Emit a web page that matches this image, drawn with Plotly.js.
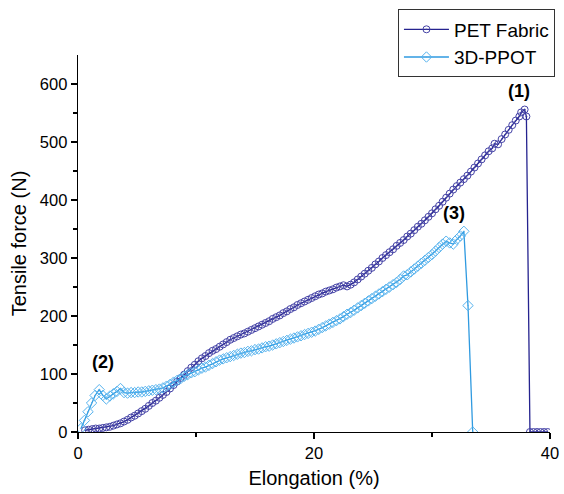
<!DOCTYPE html>
<html>
<head>
<meta charset="utf-8">
<script src="https://cdn.plot.ly/plotly-3.0.1.min.js"></script>
<style>html,body{margin:0;padding:0;background:#fff;}#chart{width:564px;height:494px;}</style>
</head>
<body>
<div id="chart"></div>
<script>
// PET Fabric: elongation (%) and tensile force (N)
const petX = [0.6,0.9,1.2,1.5,1.8,2.1,2.4,2.7,3.0,3.3,3.6,3.9,4.2,4.5,4.8,5.1,5.4,5.7,6.0,6.3,6.6,6.9,7.2,7.5,7.8,8.1,8.4,8.7,9.0,9.3,9.6,9.9,10.2,10.5,10.8,11.1,11.4,11.7,12.0,12.3,12.6,12.9,13.2,13.5,13.8,14.1,14.4,14.7,15.0,15.3,15.6,15.9,16.2,16.5,16.8,17.1,17.4,17.7,18.0,18.3,18.6,18.9,19.2,19.5,19.8,20.1,20.4,20.7,21.0,21.3,21.6,21.9,22.2,22.5,22.8,23.1,23.4,23.7,24.0,24.3,24.6,24.9,25.2,25.5,25.8,26.1,26.4,26.7,27.0,27.3,27.6,27.9,28.2,28.5,28.8,29.1,29.4,29.7,30.0,30.3,30.6,30.9,31.2,31.5,31.8,32.1,32.4,32.7,33.0,33.3,33.6,33.9,34.2,34.5,34.8,35.1,35.3,35.6,35.9,36.2,36.5,36.8,37.1,37.4,37.55,37.85,38.0,38.3,38.6,38.9,39.2,39.5,39.8];
const petY = [3,4,5,6,6,7,8,9,11,13,15,18,21,25,28,32,36,40,45,50,54,59,64,69,75,81,87,93,99,105,111,116,122,127,131,136,140,143,147,151,155,159,162,165,168,170,173,176,179,182,185,188,191,195,198,201,205,208,212,215,219,222,225,228,231,234,237,239,242,244,246,249,251,253,251,254,258,263,268,273,278,283,289,294,300,305,310,315,321,326,331,337,342,348,354,359,365,371,377,384,390,397,404,411,418,424,430,436,442,449,456,463,470,477,484,489,497,496,505,513,521,529,537,544,551,556,544,0,0,0,0,0,0,0];

// 3D-PPOT: elongation (%) and tensile force (N)
const ppotX = [0.25,0.55,0.85,1.15,1.45,1.8,2.1,2.4,2.7,3.0,3.3,3.6,3.9,4.2,4.5,4.8,5.1,5.4,5.7,6.0,6.3,6.6,6.9,7.2,7.5,7.8,8.1,8.4,8.7,9.0,9.3,9.6,9.9,10.2,10.5,10.8,11.1,11.4,11.7,12.0,12.3,12.6,12.9,13.2,13.5,13.8,14.1,14.4,14.7,15.0,15.3,15.6,15.9,16.2,16.5,16.8,17.1,17.4,17.7,18.0,18.3,18.6,18.9,19.2,19.5,19.8,20.1,20.4,20.7,21.0,21.3,21.6,21.9,22.2,22.5,22.8,23.1,23.4,23.7,24.0,24.3,24.6,24.9,25.2,25.5,25.8,26.1,26.4,26.7,27.0,27.3,27.6,27.9,28.2,28.5,28.8,29.1,29.4,29.7,30.0,30.3,30.6,30.9,31.2,31.5,31.8,32.1,32.4,32.7,33.05,33.45];
const ppotY = [6,20,35,50,63,73,63,57,62,66,70,75,68,67,68,68,69,69,70,71,72,73,74,76,79,82,86,89,92,96,99,102,104,107,110,112,115,118,121,124,126,128,130,132,134,136,137,139,140,142,143,145,147,148,150,152,154,156,158,160,162,164,166,168,170,172,174,177,180,183,186,189,192,195,199,203,206,210,214,218,222,226,230,234,238,242,246,250,254,258,263,269,271,276,281,286,291,296,301,306,312,318,324,329,326,324,332,338,346,218,0];

const seriesNames = ["PET Fabric", "3D-PPOT"];
const xTicks = [0, 20, 40];
const yTicks = [0, 100, 200, 300, 400, 500, 600];
const noteText = ["(1)", "(2)", "(3)"];
const noteX = [37.4, 2.1, 31.9];
const noteY = [588, 121, 377];

const FONT = "Liberation Sans, Arial, sans-serif";

const traces = [
  {
    x: petX, y: petY, name: seriesNames[0], type: "scatter", mode: "lines+markers",
    line: {color: "#25238f", width: 1.3},
    marker: {symbol: "circle-open-dot", size: 7, color: "#4442a6", line: {width: 1, color: "#4442a6"}}
  },
  {
    x: ppotX, y: ppotY, name: seriesNames[1], type: "scatter", mode: "lines+markers",
    line: {color: "#2f9ae0", width: 1.3},
    marker: {symbol: "diamond-open-dot", size: 8, color: "#55b2ee", line: {width: 1, color: "#55b2ee"}}
  }
];

const annotations = noteText.map((t, i) => ({
  x: noteX[i], y: noteY[i], xref: "x", yref: "y", text: "<b>" + t + "</b>",
  showarrow: false, font: {family: FONT, size: 18, color: "#000"}
}));

const layout = {
  width: 564, height: 494,
  margin: {l: 78, r: 9, t: 47, b: 62},
  paper_bgcolor: "#fff", plot_bgcolor: "#fff",
  font: {family: FONT, size: 16, color: "#000"},
  showlegend: true,
  legend: {
    x: 1.0105, y: 1.1208, xanchor: "right", yanchor: "top",
    bordercolor: "#333", borderwidth: 1, bgcolor: "#fff",
    font: {family: FONT, size: 19, color: "#000"},
    tracegroupgap: 0, itemwidth: 45
  },
  xaxis: {
    range: [0, 40], tickvals: xTicks, ticktext: xTicks.map(String),
    showgrid: false, zeroline: false, showline: true, linecolor: "#000", linewidth: 1.3,
    ticks: "outside", ticklen: 6, tickwidth: 1.3, tickcolor: "#000",
    minor: {tickvals: [10, 30], ticks: "outside", ticklen: 4, tickwidth: 1.3, tickcolor: "#000", showgrid: false},
    tickfont: {family: FONT, size: 16.5, color: "#000"},
    title: {text: "Elongation (%)", font: {family: FONT, size: 20, color: "#000"}, standoff: 10}
  },
  yaxis: {
    range: [0, 650], tickvals: yTicks, ticktext: yTicks.map(String),
    showgrid: false, zeroline: false, showline: true, linecolor: "#000", linewidth: 1.3,
    ticks: "outside", ticklen: 6, tickwidth: 1.3, tickcolor: "#000",
    minor: {tickvals: [50, 150, 250, 350, 450, 550], ticks: "outside", ticklen: 4, tickwidth: 1.3, tickcolor: "#000", showgrid: false},
    tickfont: {family: FONT, size: 16.5, color: "#000"},
    title: {text: "Tensile force (N)", font: {family: FONT, size: 20, color: "#000"}, standoff: 8}
  },
  annotations: annotations
};

Plotly.newPlot("chart", traces, layout, {displayModeBar: false, staticPlot: true});
</script>
</body>
</html>
